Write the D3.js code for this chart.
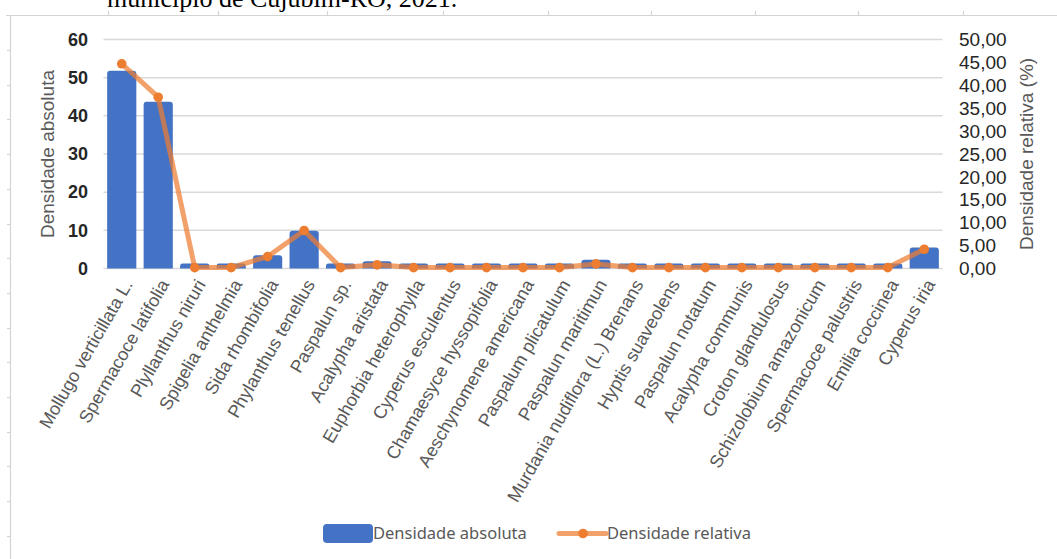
<!DOCTYPE html>
<html>
<head>
<meta charset="utf-8">
<script src="https://cdn.jsdelivr.net/npm/d3@7"></script>
<style>
  html, body { margin: 0; padding: 0; background: #fff; }
  svg { display: block; }
</style>
</head>
<body>
<svg id="chart" width="1057" height="559"></svg>
<script>
// Weed species sampled
const categories = [
  "Mollugo verticillata L.", "Spermacoce latifolia", "Plyllanthus niruri",
  "Spigelia anthelmia", "Sida rhombifolia", "Phylanthus tenellus",
  "Paspalun sp.", "Acalypha aristata", "Euphorbia heterophylla",
  "Cyperus esculentus", "Chamaesyce hyssopifolia", "Aeschynomene americana",
  "Paspalum plicatulum", "Paspalun maritimun", "Murdania nudiflora (L.) Brenans",
  "Hyptis suaveolens", "Paspalun notatum", "Acalypha communis",
  "Croton glandulosus", "Schizolobium amazonicum", "Spermacoce palustris",
  "Emilia coccinea", "Cyperus iria"
];

// Densidade absoluta (left axis)
const densidadeAbsoluta = [
  51.8, 43.7, 1.3, 1.3, 3.5, 9.9, 1.3, 1.9, 1.3, 1.3, 1.3, 1.3,
  1.3, 2.3, 1.3, 1.3, 1.3, 1.3, 1.3, 1.3, 1.3, 1.3, 5.5
];

// Densidade relativa, % (right axis)
const densidadeRelativa = [
  44.7, 37.4, 0.2, 0.2, 2.6, 8.3, 0.2, 0.8, 0.2, 0.2, 0.2, 0.2,
  0.2, 1.0, 0.2, 0.2, 0.2, 0.2, 0.2, 0.2, 0.2, 0.2, 4.2
];

const leftTicks = [0, 10, 20, 30, 40, 50, 60];
const rightTicks = [0, 5, 10, 15, 20, 25, 30, 35, 40, 45, 50];

const seriesNames = ["Densidade absoluta", "Densidade relativa"];
const captionText = "município de Cujubim-RO, 2021.";

const svg = d3.select("#chart");
const W = 1057, H = 559;

const plot = { left: 103.5, right: 942.5, top: 39.5, bottom: 268.5 };

const x = d3.scaleBand()
  .domain(categories)
  .range([plot.left, plot.right])
  .paddingInner(0.2)
  .paddingOuter(0.1);

const yL = d3.scaleLinear().domain([0, 60]).range([plot.bottom, plot.top]);
const yR = d3.scaleLinear().domain([0, 50]).range([plot.bottom, plot.top]);

const barColor = "#4472C4";
const lineColor = "#ED7D31";
const grid = "#d9d9d9";
const textGray = "#595959";

// Caption line of the figure, partly above the page edge
svg.append("text")
  .attr("x", 107).attr("y", 7)
  .attr("font-family", "'Liberation Serif', 'Times New Roman', serif")
  .attr("font-size", 26)
  .attr("fill", "#000")
  .text(captionText);

// Surrounding frame with ruler-like marks
const frame = svg.append("g").attr("stroke", "#d4d4d4").attr("stroke-width", 1.2);
frame.append("line").attr("x1", 6).attr("x2", W).attr("y1", 15.5).attr("y2", 15.5);
frame.append("line").attr("x1", 10.5).attr("x2", 10.5).attr("y1", 15).attr("y2", H);
[108, 218, 327, 443, 548, 651, 755, 858, 963].forEach(px => {
  frame.append("line").attr("x1", px + 0.5).attr("x2", px + 0.5).attr("y1", 11).attr("y2", 15);
});
d3.range(15).forEach(k => {
  const py = Math.round(50 + 34.7 * k) + 0.5;
  frame.append("line").attr("x1", 7).attr("x2", 10).attr("y1", py).attr("y2", py);
});

// Horizontal gridlines
svg.append("g")
  .selectAll("line")
  .data(leftTicks)
  .join("line")
  .attr("x1", plot.left).attr("x2", plot.right)
  .attr("y1", d => yL(d)).attr("y2", d => yL(d))
  .attr("stroke", grid).attr("stroke-width", 1.5);

// Left axis tick labels
svg.append("g")
  .selectAll("text")
  .data(leftTicks)
  .join("text")
  .attr("x", 88).attr("y", d => yL(d))
  .attr("dy", "0.35em")
  .attr("text-anchor", "end")
  .attr("font-family", "'Liberation Sans', Arial, sans-serif")
  .attr("font-size", 18).attr("font-weight", "bold")
  .attr("fill", "#262626")
  .text(d => d);

// Right axis tick labels
const fmt = d3.format(".2f");
svg.append("g")
  .selectAll("text")
  .data(rightTicks)
  .join("text")
  .attr("x", 959).attr("y", d => yR(d))
  .attr("dy", "0.35em")
  .attr("font-family", "'Liberation Sans', Arial, sans-serif")
  .attr("font-size", 19)
  .attr("fill", "#262626")
  .text(d => fmt(d).replace(".", ","));

// Axis titles
svg.append("text")
  .attr("transform", `translate(54, ${(plot.top + plot.bottom) / 2}) rotate(-90)`)
  .attr("text-anchor", "middle")
  .attr("font-family", "'Liberation Sans', Arial, sans-serif")
  .attr("font-size", 19)
  .attr("fill", textGray)
  .text("Densidade absoluta");

svg.append("text")
  .attr("transform", `translate(1033, ${(plot.top + plot.bottom) / 2}) rotate(-90)`)
  .attr("text-anchor", "middle")
  .attr("font-family", "'Liberation Sans', Arial, sans-serif")
  .attr("font-size", 19)
  .attr("fill", textGray)
  .text("Densidade relativa (%)");

// Bars
svg.append("g")
  .selectAll("path")
  .data(categories.map((c, i) => ({ c, v: densidadeAbsoluta[i] })))
  .join("path")
  .attr("fill", barColor)
  .attr("d", d => {
    const x0 = x(d.c), w = x.bandwidth(), y0 = yL(d.v), y1 = yL(0);
    const r = Math.min(3, (y1 - y0) / 2);
    return `M${x0},${y1}V${y0 + r}Q${x0},${y0} ${x0 + r},${y0}H${x0 + w - r}Q${x0 + w},${y0} ${x0 + w},${y0 + r}V${y1}Z`;
  });

// Relative density line
const pts = categories.map((c, i) => [x(c) + x.bandwidth() / 2, yR(densidadeRelativa[i])]);
svg.append("path")
  .attr("d", d3.line()(pts))
  .attr("fill", "none")
  .attr("stroke", lineColor)
  .attr("stroke-opacity", 0.72)
  .attr("stroke-width", 5)
  .attr("stroke-linejoin", "round")
  .attr("stroke-linecap", "round");

svg.append("g")
  .selectAll("circle")
  .data(pts)
  .join("circle")
  .attr("cx", d => d[0]).attr("cy", d => d[1])
  .attr("r", 4.8)
  .attr("fill", lineColor);

// Category labels, rotated
svg.append("g")
  .selectAll("text")
  .data(categories)
  .join("text")
  .attr("transform", d => `translate(${x(d) + x.bandwidth() / 2 + 6}, 281) rotate(-60)`)
  .attr("text-anchor", "end")
  .attr("dy", "0.35em")
  .attr("font-family", "'Liberation Sans', Arial, sans-serif")
  .attr("font-size", 18)
  .attr("fill", textGray)
  .text(d => d);

// Legend
const lg = svg.append("g")
  .attr("font-family", "'Noto Sans', 'Open Sans', sans-serif")
  .attr("font-size", 16.5)
  .attr("fill", textGray);
lg.append("rect")
  .attr("x", 323).attr("y", 524).attr("width", 50).attr("height", 19)
  .attr("rx", 4).attr("fill", barColor);
lg.append("text").attr("x", 373).attr("y", 533.5).attr("dy", "0.35em").text(seriesNames[0]);
lg.append("line")
  .attr("x1", 559).attr("x2", 606).attr("y1", 533.5).attr("y2", 533.5)
  .attr("stroke", lineColor).attr("stroke-opacity", 0.72)
  .attr("stroke-width", 5).attr("stroke-linecap", "round");
lg.append("circle").attr("cx", 583).attr("cy", 533.5).attr("r", 4.8).attr("fill", lineColor);
lg.append("text").attr("x", 607).attr("y", 533.5).attr("dy", "0.35em").text(seriesNames[1]);
</script>
</body>
</html>
